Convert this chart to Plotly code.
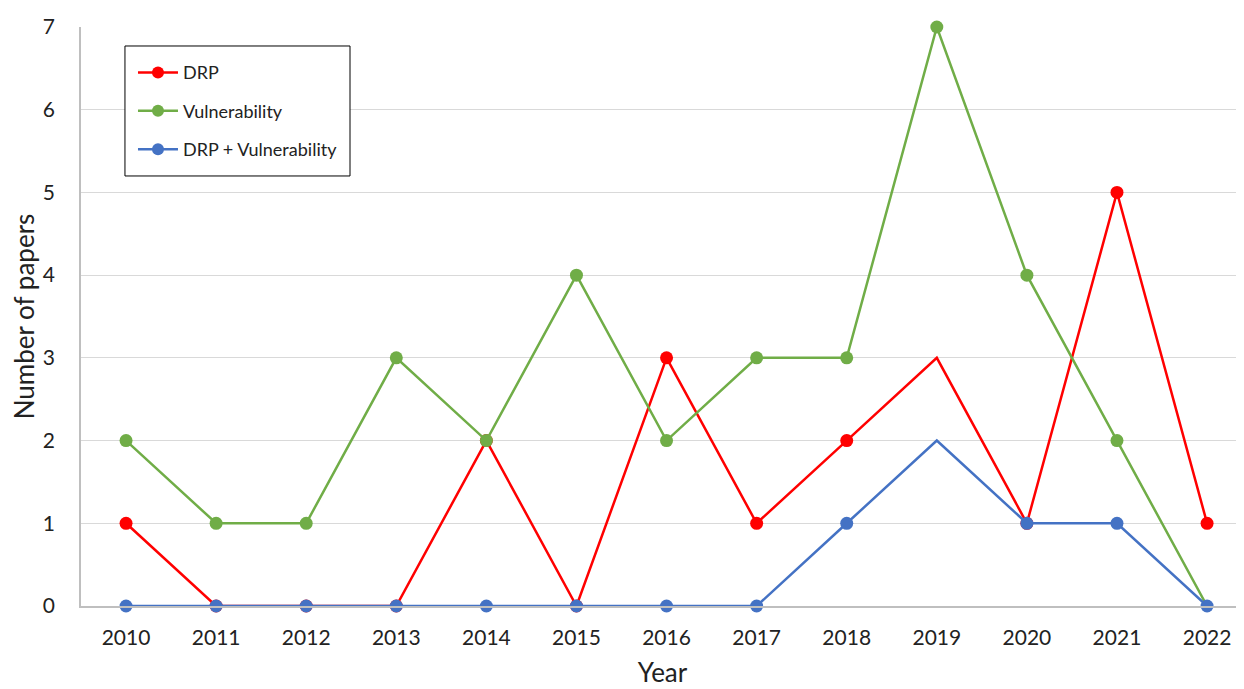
import plotly.graph_objects as go

years = ["2010","2011","2012","2013","2014","2015","2016","2017","2018","2019","2020","2021","2022"]
drp = [1,0,0,0,2,0,3,1,2,3,1,5,1]
vul = [2,1,1,3,2,4,2,3,3,7,4,2,0]
both = [0,0,0,0,0,0,0,0,1,2,1,1,0]

drp_marker = [13,13,13,13,13,13,13,13,13,0,13,13,13]
vul_marker = [13,13,13,13,13,13,13,13,13,13,13,13,0]
both_marker = [13,13,13,13,13,13,13,13,13,0,13,13,13]

xs = list(range(len(years)))

fig = go.Figure()
series = [("DRP", drp, "#FF0000", drp_marker),
          ("Vulnerability", vul, "#70AD47", vul_marker),
          ("DRP + Vulnerability", both, "#4472C4", both_marker)]
for i, (name, vals, col, ms) in enumerate(series):
    fig.add_trace(go.Scatter(x=xs, y=vals, name=name, mode="lines+markers",
                             legendgroup=f"g{i}",
                             line=dict(color=col, width=2.5),
                             marker=dict(color=col, size=ms, opacity=1,
                                         line=dict(width=0)),
                             cliponaxis=False))

# legend frame
fig.add_shape(type="rect", xref="paper", yref="paper",
              x0=0.0378, x1=0.2313, y0=0.7427, y1=0.9672,
              line=dict(color="black", width=1), fillcolor="white", layer="above")

fig.update_layout(
    width=1236, height=681,
    margin=dict(l=73, r=0, t=19, b=83),
    plot_bgcolor="white", paper_bgcolor="white",
    font=dict(family="Lato, Open Sans, sans-serif", color="#222"),
    showlegend=True,
    legend=dict(x=0.0447, y=0.953, xanchor="left", yanchor="top",
                borderwidth=0, bgcolor="rgba(0,0,0,0)",
                font=dict(size=18, color="#222"), tracegroupgap=12,
                itemwidth=40),
    xaxis=dict(tickmode="array", tickvals=xs, ticktext=years,
               range=[-0.5, 12.41], showgrid=False, zeroline=False,
               showline=True, linecolor="#BFBFBF", linewidth=1.5,
               ticks="", tickfont=dict(size=21), ticklabelstandoff=12,
               automargin=False,
               title=dict(text="Year", font=dict(size=26), standoff=16)),
    yaxis=dict(range=[0, 7], dtick=1, showgrid=True, gridcolor="#D9D9D9",
               gridwidth=1.2, zeroline=False, showline=True,
               linecolor="#BFBFBF", linewidth=1.5, ticks="",
               tickfont=dict(size=21), ticklabelstandoff=20,
               automargin=False,
               title=dict(text="Number of papers", font=dict(size=26), standoff=18)),
)
fig.write_html("out.html")
